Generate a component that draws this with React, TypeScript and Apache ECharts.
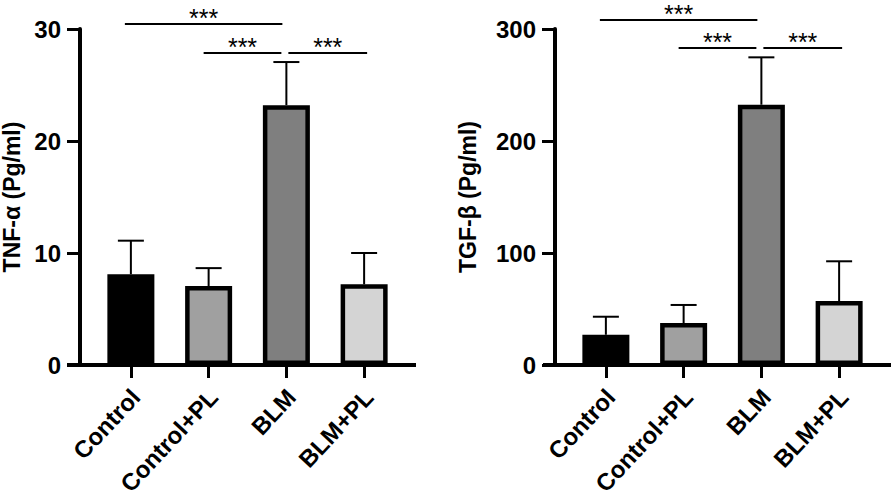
import React, { useEffect, useRef } from 'react';
import * as echarts from 'echarts';

const categories = ['Control', 'Control+PL', 'BLM', 'BLM+PL'];
const barColors = ['#000000', '#a0a0a0', '#7f7f7f', '#d4d4d4'];

const tnfMeans = [8.1, 7.05, 23.2, 7.2];
const tnfErrors = [3.0, 1.6, 3.85, 2.8];
const tnfTicks = [0, 10, 20, 30];

const tgfMeans = [27, 37.5, 232.4, 57.1];
const tgfErrors = [16.1, 16.1, 42.3, 35.5];
const tgfTicks = [0, 100, 200, 300];

const comparisons = [
  [0, 2],
  [1, 2],
  [2, 3],
];
const tnfSigLevels = [30.45, 27.86, 27.86];
const tgfSigLevels = [308, 283, 283];
const sigLabels = ['***', '***', '***'];

const FONT = "'Liberation Sans', Arial, Helvetica, sans-serif";

export default function App() {
  const ref = useRef<HTMLDivElement>(null);

  useEffect(() => {
    if (!ref.current) return;
    const chart = echarts.init(ref.current, undefined, { renderer: 'svg' });

    const sigOffsets = [
      [-6, -4],
      [-5, -5],
      [2, 3],
    ];

    const makeYAxis = (gridIndex: number, ticks: number[], name: string, nameGap: number) => ({
      gridIndex,
      type: 'value',
      min: ticks[0],
      max: ticks[ticks.length - 1],
      interval: ticks[1] - ticks[0],
      offset: 12,
      axisLine: { show: true, lineStyle: { color: '#000', width: 4 } },
      axisTick: { show: true, length: 13, lineStyle: { color: '#000', width: 3 } },
      axisLabel: { fontSize: 24, fontWeight: 'bold', color: '#000', margin: 19, fontFamily: FONT },
      splitLine: { show: false },
      name,
      nameLocation: 'middle',
      nameGap,
      nameTextStyle: { fontSize: 23, fontWeight: 'bold', color: '#000', fontFamily: FONT },
    });

    const makeXAxis = (gridIndex: number) => ({
      gridIndex,
      type: 'category',
      data: categories,
      axisLine: { show: false },
      axisTick: { show: true, alignWithLabel: true, length: 13, lineStyle: { color: '#000', width: 3 } },
      axisLabel: {
        rotate: 47,
        margin: 33,
        fontSize: 24,
        fontWeight: 'bold',
        color: '#000',
        fontFamily: FONT,
        padding: [14, -7, 0, 0],
        interval: 0,
      },
    });

    const barSeries = (idx: number, means: number[]) => ({
      type: 'bar',
      xAxisIndex: idx,
      yAxisIndex: idx,
      barWidth: 47,
      z: 3,
      data: means.map((v, i) => ({
        value: v,
        itemStyle: { color: barColors[i], borderColor: '#000', borderWidth: 4.5 },
      })),
    });

    const errorSeries = (idx: number, means: number[], errs: number[]) => ({
      type: 'custom',
      xAxisIndex: idx,
      yAxisIndex: idx,
      z: 2,
      data: means.map((m, i) => [i, m, m + errs[i]]),
      renderItem: (params: any, api: any) => {
        const base = api.coord([api.value(0), api.value(1)]);
        const top = api.coord([api.value(0), api.value(2)]);
        const style = { stroke: '#000', lineWidth: 2 };
        return {
          type: 'group',
          children: [
            { type: 'line', shape: { x1: base[0], y1: base[1], x2: top[0], y2: top[1] }, style },
            { type: 'line', shape: { x1: top[0] - 13, y1: top[1], x2: top[0] + 13, y2: top[1] }, style },
          ],
        };
      },
    });

    const sigSeries = (idx: number, levels: number[]) => ({
      type: 'custom',
      xAxisIndex: idx,
      yAxisIndex: idx,
      z: 4,
      clip: false,
      data: comparisons.map((c, i) => [c[0], c[1], levels[i]]),
      renderItem: (params: any, api: any) => {
        const off = sigOffsets[params.dataIndex];
        const p1 = api.coord([api.value(0), api.value(2)]);
        const p2 = api.coord([api.value(1), api.value(2)]);
        const x1 = p1[0] + off[0];
        const x2 = p2[0] + off[1];
        return {
          type: 'group',
          children: [
            { type: 'line', shape: { x1, y1: p1[1], x2, y2: p1[1] }, style: { stroke: '#000', lineWidth: 2 } },
            {
              type: 'text',
              x: (x1 + x2) / 2,
              y: p1[1] - 6,
              style: {
                text: sigLabels[params.dataIndex],
                fontSize: 25,
                fontFamily: FONT,
                fill: '#000',
                align: 'center',
                verticalAlign: 'middle',
              },
            },
          ],
        };
      },
    });

    const option: any = {
      animation: false,
      backgroundColor: '#fff',
      grid: [
        { left: 92, width: 311, top: 29, height: 336, outerBoundsMode: 'none', containLabel: false },
        { left: 567, width: 311, top: 29, height: 336, outerBoundsMode: 'none', containLabel: false },
      ],
      xAxis: [makeXAxis(0), makeXAxis(1)],
      yAxis: [
        makeYAxis(0, tnfTicks, 'TNF-α (Pg/ml)', 57),
        makeYAxis(1, tgfTicks, 'TGF-β (Pg/ml)', 76),
      ],
      graphic: [
        { type: 'line', shape: { x1: 67, y1: 365, x2: 416, y2: 365 }, style: { stroke: '#000', lineWidth: 4 }, z: 10 },
        { type: 'line', shape: { x1: 543, y1: 365, x2: 891, y2: 365 }, style: { stroke: '#000', lineWidth: 4 }, z: 10 },
      ],
      series: [
        errorSeries(0, tnfMeans, tnfErrors),
        barSeries(0, tnfMeans),
        sigSeries(0, tnfSigLevels),
        errorSeries(1, tgfMeans, tgfErrors),
        barSeries(1, tgfMeans),
        sigSeries(1, tgfSigLevels),
      ],
    };

    chart.setOption(option);
    return () => chart.dispose();
  }, []);

  return (
    <div
      ref={ref}
      style={{ position: 'fixed', left: 0, top: 0, width: 896, height: 500, background: '#fff' }}
    />
  );
}
